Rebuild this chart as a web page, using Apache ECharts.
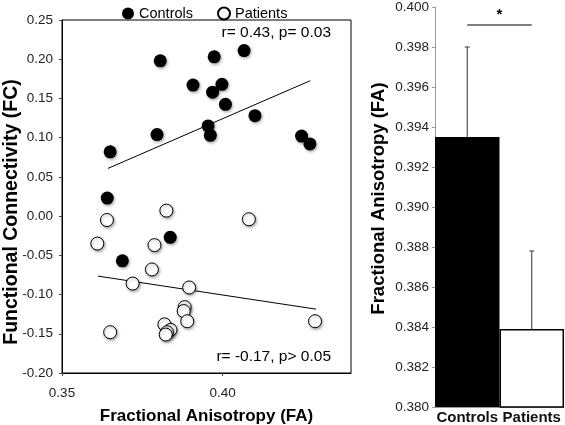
<!DOCTYPE html>
<html>
<head>
<meta charset="utf-8">
<script src="https://cdn.jsdelivr.net/npm/echarts@6/dist/echarts.min.js"></script>
<style>
html,body{margin:0;padding:0;background:#fff;}
#chart{width:565px;height:425px;}
</style>
</head>
<body>
<div id="chart"></div>
<script>
// ---- Data ----
const controlsFA = [0.3806,0.3974,0.4067,0.3908,0.3998,0.3969,0.4009,0.4101,0.3955,0.3962,0.3796,0.4246,0.4272,0.3650,0.3641,0.3837,0.3688];
const controlsFC = [0.198,0.203,0.211,0.167,0.168,0.158,0.1425,0.128,0.115,0.103,0.104,0.102,0.092,0.082,0.023,-0.027,-0.057];
const patientsFA = [0.3825,0.3640,0.4082,0.3610,0.3788,0.3780,0.3720,0.3896,0.3882,0.3879,0.3890,0.3819,0.3838,0.3827,0.3823,0.3650,0.4288];
const patientsFC = [0.007,-0.005,-0.004,-0.035,-0.037,-0.068,-0.086,-0.091,-0.116,-0.121,-0.134,-0.138,-0.145,-0.148,-0.151,-0.148,-0.134];
const controlsFitFA = [0.3643, 0.4273];
const controlsFitFC = [0.0608, 0.1726];
const patientsFitFA = [0.3612, 0.4291];
const patientsFitFC = [-0.0765, -0.1186];
const controlsStat = 'r= 0.43, p= 0.03';
const patientsStat = 'r= -0.17, p> 0.05';

const barCategories = ['Controls', 'Patients'];
const barMeans = [0.3935, 0.3839];
const barErrors = [0.0045, 0.0039];
const sigLevel = 0.3991;
const sigLabel = '*';

// ---- Chart ----
const FONT = 'Liberation Sans, Arial, Helvetica, sans-serif';
const zip = (a, b) => a.map((v, i) => [v, b[i]]);
const fmt = d => v => (Math.abs(v) < 1e-9 ? 0 : v).toFixed(d);
const pointShadow = {shadowColor:'rgba(0,0,0,0.35)', shadowBlur:3, shadowOffsetX:1, shadowOffsetY:1.5, opacity:1};

const chart = echarts.init(document.getElementById('chart'), null, {renderer:'canvas'});
chart.setOption({
  animation:false,
  backgroundColor:'#fff',
  textStyle:{fontFamily:FONT},
  legend:{
    left:117, top:1, itemWidth:12, itemHeight:12, itemGap:24,
    textStyle:{fontSize:14.5, color:'#000', fontFamily:FONT},
    itemStyle:{shadowColor:'transparent', shadowBlur:0, opacity:1},
    data:['Controls','Patients']
  },
  grid:[
    {left:62, top:20, width:289, height:353, show:true, borderColor:'#000', borderWidth:1, containLabel:false, outerBoundsMode:'none'},
    {left:435, top:7, width:129, height:400, containLabel:false, outerBoundsMode:'none'}
  ],
  xAxis:[
    {gridIndex:0, type:'value', min:0.35, max:0.44, interval:0.05,
     splitLine:{show:false},
     axisLine:{onZero:false, lineStyle:{color:'#000'}},
     axisTick:{length:3, lineStyle:{color:'#444'}},
     axisLabel:{showMaxLabel:false, margin:13, fontSize:13.5, color:'#222', formatter:fmt(2)},
     name:'Fractional Anisotropy (FA)', nameLocation:'middle', nameGap:35, nameMoveOverlap:false,
     nameTextStyle:{fontSize:17, fontWeight:'bold', color:'#000'}},
    {gridIndex:1, type:'category', data:barCategories,
     axisLine:{onZero:false, lineStyle:{color:'#999'}},
     axisTick:{show:false},
     axisLabel:{interval:0, margin:3, fontSize:15, fontWeight:'bold', color:'#111'}}
  ],
  yAxis:[
    {gridIndex:0, type:'value', min:-0.2, max:0.25, interval:0.05,
     splitLine:{show:false},
     axisLine:{onZero:false, lineStyle:{color:'#000'}},
     axisTick:{length:3, lineStyle:{color:'#444'}},
     axisLabel:{margin:9, fontSize:13.5, color:'#222', formatter:fmt(2)},
     name:'Functional Connectivity (FC)', nameLocation:'middle', nameGap:40, nameMoveOverlap:false,
     nameTextStyle:{fontSize:19.5, fontWeight:'bold', color:'#000', padding:[0,31,0,0]}},
    {gridIndex:1, type:'value', min:0.38, max:0.4, interval:0.002,
     splitLine:{show:false},
     axisLine:{show:true, onZero:false, lineStyle:{color:'#999'}},
     axisTick:{show:true, length:3, lineStyle:{color:'#999'}},
     axisLabel:{margin:6, fontSize:13.5, color:'#222', formatter:fmt(3)},
     name:'Fractional Anisotropy (FA)', nameLocation:'middle', nameGap:47, nameMoveOverlap:false,
     nameTextStyle:{fontSize:18.5, fontWeight:'bold', color:'#000', padding:[0,0,0,17]}}
  ],
  series:[
    {name:'Controls', type:'scatter', xAxisIndex:0, yAxisIndex:0, symbolSize:13,
     itemStyle:Object.assign({color:'#000'}, pointShadow),
     data:zip(controlsFA, controlsFC), z:3},
    {name:'Patients', type:'scatter', xAxisIndex:0, yAxisIndex:0, symbolSize:13,
     itemStyle:Object.assign({color:'#fff', borderColor:'#000', borderWidth:1}, pointShadow),
     data:zip(patientsFA, patientsFC), z:3},
    {type:'line', xAxisIndex:0, yAxisIndex:0, showSymbol:false, symbol:'none', silent:true,
     lineStyle:{color:'#000', width:1}, data:zip(controlsFitFA, controlsFitFC), z:2},
    {type:'line', xAxisIndex:0, yAxisIndex:0, showSymbol:false, symbol:'none', silent:true,
     lineStyle:{color:'#000', width:1}, data:zip(patientsFitFA, patientsFitFC), z:2},
    {type:'bar', xAxisIndex:1, yAxisIndex:1, barWidth:'100%', barCategoryGap:0,
     data:barMeans.map((v, i) => ({value:v, itemStyle: i === 0
        ? {color:'#000'}
        : {color:'#fff', borderColor:'#000', borderWidth:1.5}})), z:2},
    {type:'custom', xAxisIndex:1, yAxisIndex:1, z:5, silent:true,
     data:barMeans.map((v, i) => [i, v, barErrors[i]]),
     renderItem:function(params, api){
       const p0 = api.coord([api.value(0), api.value(1)]);
       const p1 = api.coord([api.value(0), api.value(1) + api.value(2)]);
       const st = {stroke:'#333', lineWidth:1};
       return {type:'group', children:[
         {type:'line', shape:{x1:p0[0], y1:p0[1], x2:p1[0], y2:p1[1]}, style:st},
         {type:'line', shape:{x1:p1[0]-2.5, y1:p1[1], x2:p1[0]+2.5, y2:p1[1]}, style:st}
       ]};
     }},
    {type:'custom', xAxisIndex:1, yAxisIndex:1, z:5, silent:true,
     data:[[0, 1, sigLevel]],
     renderItem:function(params, api){
       const a = api.coord([api.value(0), api.value(2)]);
       const b = api.coord([api.value(1), api.value(2)]);
       return {type:'group', children:[
         {type:'line', shape:{x1:a[0], y1:a[1], x2:b[0], y2:b[1]}, style:{stroke:'#000', lineWidth:1}},
         {type:'text', x:(a[0]+b[0])/2, y:a[1]-3, style:{text:sigLabel, align:'center', verticalAlign:'bottom', font:'bold 15px ' + FONT, fill:'#000'}}
       ]};
     }}
  ],
  graphic:[
    {type:'text', x:331, y:33, style:{text:controlsStat, align:'right', verticalAlign:'middle', font:'15.5px ' + FONT, fill:'#000'}},
    {type:'text', x:331, y:357, style:{text:patientsStat, align:'right', verticalAlign:'middle', font:'15.5px ' + FONT, fill:'#000'}}
  ]
});
</script>
</body>
</html>
